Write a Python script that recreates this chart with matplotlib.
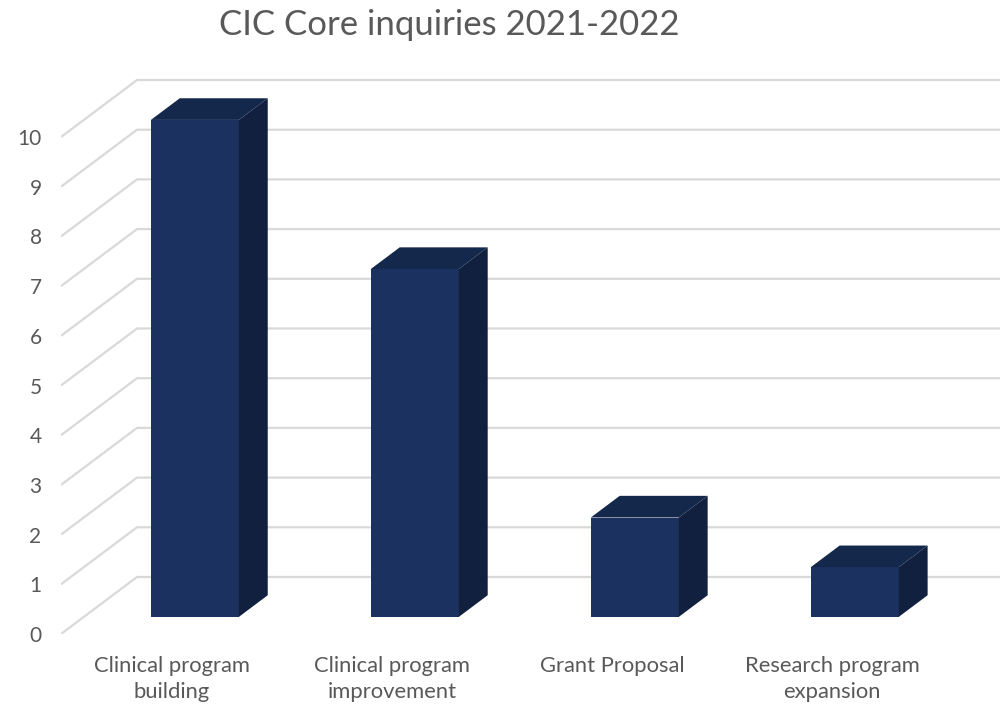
import matplotlib.pyplot as plt
from matplotlib.patches import Polygon

# data
categories = ["Clinical program\nbuilding", "Clinical program\nimprovement",
              "Grant Proposal", "Research program\nexpansion"]
values = [10, 7, 2, 1]
yticks = list(range(0, 11))
title = "CIC Core inquiries 2021-2022"

# fake 3D (oblique) depth offset in data units
DX = 0.3455   # category units per full depth
DY = 1.147    # value units per full depth
T_FRONT, T_BACK = 0.30, 0.68
BAR_W = 0.4
WALL_X = -0.505

front_col = "#1b3260"
top_col = "#14284c"
side_col = "#12203f"
grid_col = "#d9d9d9"
text_col = "#595959"

plt.rcParams['font.family'] = ['Lato', 'DejaVu Sans']

fig = plt.figure(figsize=(10, 7.05), dpi=100)
ax = fig.add_axes([61 / 1000, (705 - 634) / 705, (1000 - 61) / 1000, 634 / 705])
ax.set_xlim(WALL_X, 3.764)
ax.set_ylim(0, 12.757)

# walls: diagonal side lines + horizontal back lines
for v in yticks:
    ax.plot([WALL_X, WALL_X + DX, 4.0], [v, v + DY, v + DY],
            color=grid_col, lw=1.6, zorder=1, solid_capstyle='butt')

# bars
xs = list(range(len(values)))
ax.bar([x + DX * T_FRONT for x in xs], values, width=BAR_W,
       bottom=DY * T_FRONT, color=front_col, zorder=3, linewidth=0)
for x, v in zip(xs, values):
    xl = x - BAR_W / 2
    xr = x + BAR_W / 2
    top = [(xl + DX * T_FRONT, v + DY * T_FRONT), (xr + DX * T_FRONT, v + DY * T_FRONT),
           (xr + DX * T_BACK, v + DY * T_BACK), (xl + DX * T_BACK, v + DY * T_BACK)]
    side = [(xr + DX * T_FRONT, DY * T_FRONT), (xr + DX * T_BACK, DY * T_BACK),
            (xr + DX * T_BACK, v + DY * T_BACK), (xr + DX * T_FRONT, v + DY * T_FRONT)]
    ax.add_patch(Polygon(top, closed=True, facecolor=top_col, lw=0, zorder=3))
    ax.add_patch(Polygon(side, closed=True, facecolor=side_col, lw=0, zorder=3))

ax.set_yticks(yticks)
ax.set_xticks(xs)
ax.set_xticklabels(categories, linespacing=1.35)
ax.tick_params(axis='y', length=0, pad=14, labelsize=15, labelcolor=text_col)
ax.tick_params(axis='x', length=0, pad=16, labelsize=15.8, labelcolor=text_col)
for s in ax.spines.values():
    s.set_visible(False)

fig.text(0.449, 1 - 25 / 705, title, ha='center', va='center',
         fontsize=25, color=text_col)

fig.savefig("out.png", dpi=100)
